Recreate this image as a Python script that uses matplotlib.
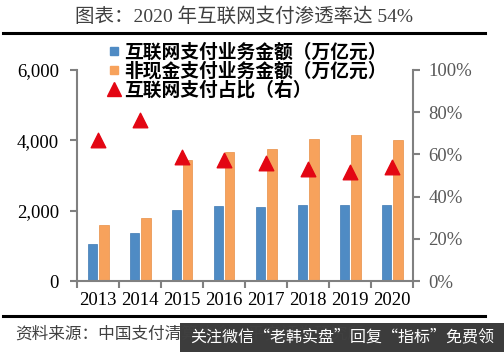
import numpy as np
import matplotlib
matplotlib.use("Agg")
import matplotlib.pyplot as plt
from matplotlib.lines import Line2D
from matplotlib.patches import Rectangle

plt.rcParams['font.family'] = ['Noto Sans CJK SC', 'DejaVu Sans']

# 数据
years = ['2013', '2014', '2015', '2016', '2017', '2018', '2019', '2020']
internet_pay = [1050, 1365, 2020, 2135, 2105, 2160, 2160, 2160]      # 万亿元
noncash_pay = [1590, 1790, 3440, 3670, 3755, 4040, 4150, 4010]       # 万亿元
share = [0.668, 0.763, 0.588, 0.573, 0.559, 0.530, 0.517, 0.540]     # 右轴

title = '图表：2020 年互联网支付渗透率达 54%'
legend_labels = ['互联网支付业务金额（万亿元）', '非现金支付业务金额（万亿元）', '互联网支付占比（右）']
source = '资料来源：中国支付清算协会，平安证券研究所'
watermark = '关注微信“老韩实盘”回复“指标”免费领'

W, H = 504, 352
fig = plt.figure(figsize=(W / 100, H / 100), dpi=100)

blue = '#4F8BC4'
orange = '#F7A25C'
red = '#E30613'
grey = '#808080'
serif = ['Liberation Serif', 'Noto Sans CJK SC']

ax = fig.add_axes([77 / W, 1 - 281 / H, (413 - 77) / W, (281 - 70) / H])
x = np.arange(len(years))
bw = 0.22
ax.bar(x - 0.14, internet_pay, bw, color=blue, edgecolor='#3E79B3', linewidth=0.5, zorder=2)
ax.bar(x + 0.14, noncash_pay, bw, color=orange, edgecolor='#E88F45', linewidth=0.5, zorder=2)
ax.set_xlim(-0.5, len(years) - 0.5)
ax.set_ylim(0, 6000)
ax.set_yticks([0, 2000, 4000, 6000])
ax.set_yticklabels(['0', '2,000', '4,000', '6,000'], family=serif, fontsize=13.5)
ax.set_xticks(x)
ax.set_xticklabels(years, family=serif, fontsize=13.5)
ax.set_xticks(np.arange(-0.5, len(years)), minor=True)
ax.tick_params(axis='x', which='major', length=0, pad=8)
ax.tick_params(axis='x', which='minor', length=5, color=grey, width=1.5)
ax.tick_params(axis='y', length=5, color=grey, width=1.5, pad=8)
for s in ['top', 'right']:
    ax.spines[s].set_visible(False)
for s in ['left', 'bottom']:
    ax.spines[s].set_color(grey)
    ax.spines[s].set_linewidth(1.5)

ax2 = ax.twinx()
ax2.scatter(x, share, marker='^', s=110, color=red, zorder=3)
ax2.set_ylim(0, 1)
ax2.set_yticks(np.linspace(0, 1, 6))
ax2.set_yticklabels(['0%', '20%', '40%', '60%', '80%', '100%'],
                    family=serif, fontsize=13.5, color='#595959')
ax2.tick_params(axis='y', length=5, color=grey, width=1.5, pad=6)
for s in ['top', 'left', 'bottom']:
    ax2.spines[s].set_visible(False)
ax2.spines['right'].set_color(grey)
ax2.spines['right'].set_linewidth(1.5)

handles = [Line2D([], [], marker='s', ls='none', color=blue, markersize=6),
           Line2D([], [], marker='s', ls='none', color=orange, markersize=6),
           Line2D([], [], marker='^', ls='none', color=red, markersize=10)]
fig.legend(handles, legend_labels, loc='upper left', bbox_to_anchor=(100 / W, 1 - 35 / H),
           frameon=False, handlelength=0.7, handletextpad=0.2, labelspacing=0.0,
           borderaxespad=0, prop={'weight': 'bold', 'size': 13.5})

# 标题与分隔线
fig.text(244 / W, 1 - 17 / H, title, ha='center', va='center', fontsize=14,
         color='#404040', family=serif)
fig.add_artist(Line2D([3 / W, 485 / W], [1 - 33 / H] * 2, color='black', lw=2.2))
fig.add_artist(Line2D([3 / W, 485 / W], [1 - 316 / H] * 2, color='black', lw=2.2))

fig.text(15 / W, 1 - 335 / H, source, ha='left', va='center', fontsize=12,
         color='#404040', style='italic')
fig.add_artist(Rectangle((180 / W, 0), 1 - 180 / W, 29 / H, transform=fig.transFigure,
                         facecolor='#3C3C3C', edgecolor='none'))
fig.text(342 / W, 1 - 337 / H, watermark, ha='center', va='center', fontsize=11.5, color='white')

fig.savefig('out.png', dpi=100)
